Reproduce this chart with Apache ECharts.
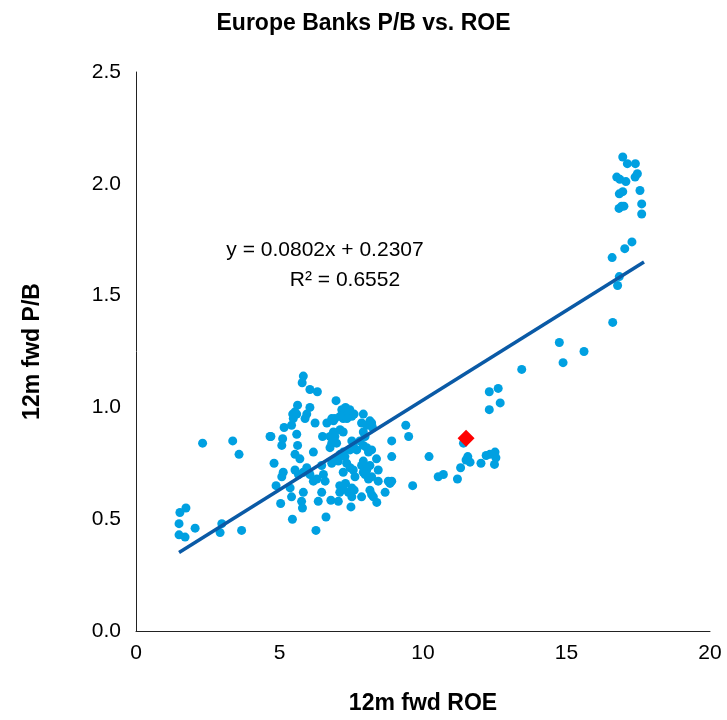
<!DOCTYPE html>
<html>
<head>
<meta charset="utf-8">
<script src="https://cdn.jsdelivr.net/npm/echarts@6/dist/echarts.min.js"></script>
<style>html,body{margin:0;padding:0;background:#fff}#c{width:727px;height:720px}</style>
</head>
<body>
<div id="c"></div>
<script>
// Bank observations: 12m fwd ROE (x) and 12m fwd P/B (y)
const roe = [
 2.32,3.37,3.59,4.67,1.53,1.74,1.50,1.50,1.71,2.06,2.99,2.93,3.68,
 4.70,4.81,4.88,5.04,5.16,5.11,5.08,5.13,5.08,5.37,5.42,5.45,5.42,5.48,5.46,5.54,5.60,5.63,5.60,5.63,5.54,5.71,5.54,5.66,5.83,5.77,5.80,5.95,5.83,
 5.83,5.79,6.06,6.32,6.06,5.95,5.89,6.24,6.50,6.06,6.18,6.30,6.47,6.53,6.59,6.47,6.35,6.62,6.27,6.18,6.65,
 6.82,6.93,6.88,6.97,6.76,6.82,6.76,6.88,6.93,6.99,6.82,6.93,7.05,6.79,7.05,
 7.17,7.28,7.40,7.52,7.22,7.11,7.35,7.45,7.30,7.60,
 7.11,7.22,7.52,7.57,7.46,7.22,7.11,7.28,7.34,7.46,7.22,7.57,7.63,7.69,7.10,7.20,7.30,7.40,7.52,7.60,7.52,7.49,7.10,
 7.92,7.86,8.04,8.21,8.24,7.92,7.98,8.15,7.92,8.04,8.10,8.21,7.80,7.86,7.92,8.04,8.15,8.21,8.10,7.98,8.44,8.38,8.44,7.86,8.15,8.27,8.39,8.21,7.92,
 8.79,8.85,8.68,8.91,8.91,8.91,9.40,9.50,9.64,10.21,
 10.53,10.71,11.20,11.31,11.41,11.56,11.50,11.64,12.02,12.20,12.33,12.51,12.54,12.49,12.31,12.62,12.69,12.31,
 13.44,14.75,15.61,14.88,
 16.96,17.12,17.40,16.75,16.86,17.07,17.39,17.47,17.56,16.96,16.84,17.62,17.00,16.83,16.92,17.62,17.28,17.03,16.59,16.84,16.78,16.61
];
const pb = [
 0.84,0.85,0.79,0.87,0.53,0.55,0.48,0.43,0.42,0.46,0.48,0.44,0.45,
 0.87,0.75,0.65,0.57,0.91,0.86,0.83,0.71,0.69,0.64,0.60,0.50,0.92,0.95,0.97,0.98,0.97,1.01,0.88,0.83,0.79,0.77,0.72,0.70,0.62,0.58,0.55,0.73,0.71,
 1.14,1.11,1.08,1.07,1.00,0.97,0.95,0.93,0.87,0.70,0.67,0.68,0.74,0.70,0.67,0.62,0.58,0.51,0.45,0.80,0.93,
 0.95,0.95,0.94,1.03,0.87,0.84,0.82,0.89,0.87,0.84,0.75,0.77,0.76,0.585,0.58,
 0.99,0.97,0.98,0.96,0.95,0.96,0.95,0.99,1.00,0.97,
 0.90,0.89,0.85,0.83,0.81,0.80,0.79,0.78,0.75,0.73,0.71,0.72,0.69,0.81,0.65,0.64,0.66,0.62,0.64,0.63,0.60,0.555,0.62,
 0.97,0.93,0.92,0.93,0.91,0.89,0.87,0.94,0.83,0.82,0.80,0.81,0.85,0.74,0.71,0.72,0.74,0.69,0.68,0.70,0.72,0.77,0.67,0.60,0.63,0.60,0.575,0.61,0.76,
 0.67,0.66,0.62,0.85,0.78,0.67,0.92,0.87,0.65,0.78,
 0.69,0.70,0.68,0.73,0.84,0.78,0.765,0.755,0.75,0.785,0.79,0.80,0.775,0.745,1.07,1.085,1.02,0.99,
 1.17,1.29,1.25,1.20,
 2.12,2.09,2.09,2.03,2.02,2.01,2.03,2.045,1.97,1.965,1.955,1.91,1.90,1.89,1.90,1.865,1.74,1.71,1.67,1.585,1.545,1.38
];
// Highlighted point (red diamond)
const highlightRoe = [11.50];
const highlightPb = [0.862];
// Linear trendline end points (as drawn)
const trendRoe = [1.5, 17.7];
const trendPb = [0.351, 1.650];
const equationText = 'y = 0.0802x + 0.2307';
const r2Text = 'R² = 0.6552';
const xTicks = [0, 5, 10, 15, 20];
const yTicks = [0.0, 0.5, 1.0, 1.5, 2.0, 2.5];

const FONT = '"Liberation Sans", Arial, sans-serif';
const chart = echarts.init(document.getElementById('c'), null, {renderer: 'canvas'});
chart.setOption({
  animation: false,
  backgroundColor: '#ffffff',
  title: {
    text: 'Europe Banks P/B vs. ROE',
    left: 'center', top: 7,
    textStyle: {fontFamily: FONT, fontSize: 23, fontWeight: 'bold', color: '#000'}
  },
  grid: {left: 136, right: 17, top: 72, bottom: 88},
  xAxis: {
    type: 'value', min: xTicks[0], max: xTicks[xTicks.length-1], interval: 5,
    name: '12m fwd ROE', nameLocation: 'middle', nameGap: 61,
    nameTextStyle: {fontFamily: FONT, fontSize: 23, fontWeight: 'bold', color: '#000'},
    axisLine: {lineStyle: {color: '#222', width: 1}},
    axisTick: {show: false},
    splitLine: {show: false},
    axisLabel: {fontFamily: FONT, fontSize: 21, color: '#000', margin: 12}
  },
  yAxis: {
    type: 'value', min: yTicks[0], max: yTicks[yTicks.length-1], interval: 0.5,
    name: '12m fwd P/B', nameLocation: 'middle', nameGap: 92, nameRotate: 90,
    nameTextStyle: {fontFamily: FONT, fontSize: 23, fontWeight: 'bold', color: '#000'},
    axisLine: {show: true, lineStyle: {color: '#222', width: 1}},
    axisTick: {show: false},
    splitLine: {show: false},
    axisLabel: {fontFamily: FONT, fontSize: 21, color: '#000', margin: 15,
      formatter: v => v.toFixed(1)}
  },
  graphic: [
    {type: 'text', x: 325, y: 250, style: {text: equationText, font: '21px ' + FONT, fill: '#000', align: 'center', verticalAlign: 'middle'}},
    {type: 'text', x: 345, y: 280, style: {text: r2Text, font: '21px ' + FONT, fill: '#000', align: 'center', verticalAlign: 'middle'}}
  ],
  series: [
    {
      type: 'scatter', symbol: 'circle', symbolSize: 9,
      itemStyle: {color: '#00a0e1', opacity: 1},
      data: roe.map((x, i) => [x, pb[i]]), z: 2
    },
    {
      type: 'line', symbol: 'none',
      lineStyle: {color: '#0a5aa6', width: 3.5},
      data: trendRoe.map((x, i) => [x, trendPb[i]]), z: 3
    },
    {
      type: 'scatter', symbol: 'diamond', symbolSize: 17,
      itemStyle: {color: '#ff0000', opacity: 1},
      data: highlightRoe.map((x, i) => [x, highlightPb[i]]), z: 4
    }
  ]
});
</script>
</body>
</html>
